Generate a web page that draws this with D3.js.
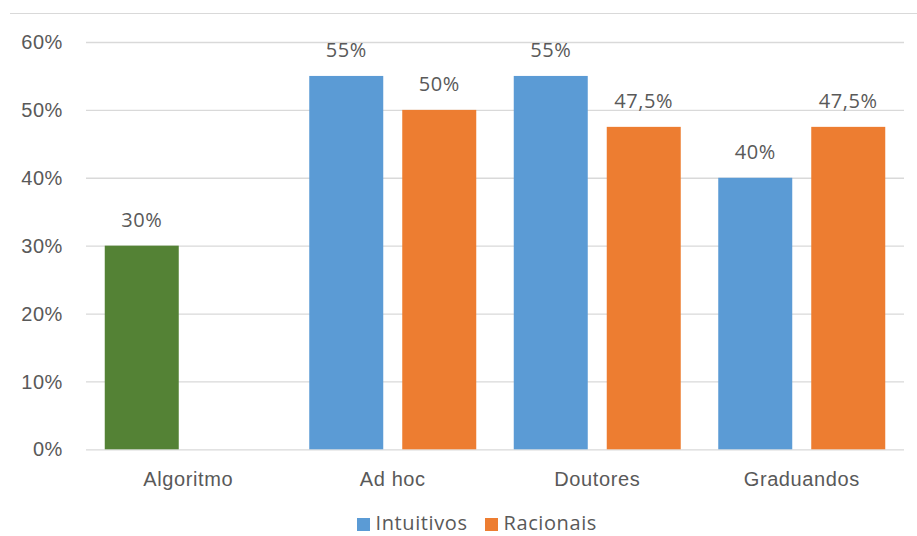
<!DOCTYPE html>
<html>
<head>
<meta charset="utf-8">
<script src="https://cdn.jsdelivr.net/npm/d3@7"></script>
<style>
  html, body { margin: 0; padding: 0; background: #ffffff; }
  svg { display: block; font-family: "Open Sans", "DejaVu Sans", sans-serif; }
  svg text { letter-spacing: 0.6px; }
</style>
</head>
<body>
<svg id="chart" width="917" height="536"></svg>
<script>
// Chart data
const categories = ["Algoritmo", "Ad hoc", "Doutores", "Graduandos"];
const seriesNames = ["Intuitivos", "Racionais"];
const intuitivos = [0.30, 0.55, 0.55, 0.40];
const racionais = [null, 0.50, 0.475, 0.475];
const valueLabels = {
  Intuitivos: ["30%", "55%", "55%", "40%"],
  Racionais: ["", "50%", "47,5%", "47,5%"]
};
const yTicks = [0, 0.1, 0.2, 0.3, 0.4, 0.5, 0.6];
const yTickLabels = ["0%", "10%", "20%", "30%", "40%", "50%", "60%"];

const seriesColors = { Intuitivos: "#5B9BD5", Racionais: "#ED7D31" };
// The Algoritmo point of the first series carries its own fill
const pointColors = { "Algoritmo|Intuitivos": "#548235" };

const textColor = "#595959";
const gridColor = "#d9d9d9";
const fontSize = 20;

const svg = d3.select("#chart");

const plot = { left: 86, right: 904, top: 42, bottom: 449.3 };

const x0 = d3.scaleBand()
  .domain(categories)
  .range([plot.left, plot.right])
  .padding(0);

const x1 = d3.scaleBand()
  .domain(seriesNames)
  .range([0, 167])
  .paddingInner(19 / 93)
  .paddingOuter(0);

const groupOffset = (x0.bandwidth() - 167) / 2;

const y = d3.scaleLinear()
  .domain([0, 0.6])
  .range([plot.bottom, plot.top]);

// Outer border (top edge only shows)
svg.append("line")
  .attr("x1", 10).attr("x2", 917)
  .attr("y1", 13.5).attr("y2", 13.5)
  .attr("stroke", gridColor).attr("stroke-width", 1);

// Gridlines and value axis labels
const yAxis = d3.axisLeft(y)
  .tickValues(yTicks)
  .tickSize(-(plot.right - plot.left))
  .tickPadding(23)
  .tickFormat((d, i) => yTickLabels[i]);

const gy = svg.append("g")
  .attr("transform", `translate(${plot.left},0)`)
  .call(yAxis);
gy.select(".domain").remove();
gy.selectAll(".tick line")
  .attr("stroke", gridColor)
  .attr("stroke-width", 1.3);
gy.selectAll(".tick text")
  .attr("fill", textColor)
  .attr("font-size", fontSize)
  .attr("dy", "0.33em");

// Bars
const rows = [];
categories.forEach((c, i) => {
  rows.push({ cat: c, series: "Intuitivos", value: intuitivos[i], label: valueLabels.Intuitivos[i] });
  rows.push({ cat: c, series: "Racionais", value: racionais[i], label: valueLabels.Racionais[i] });
});
const present = rows.filter(r => r.value !== null);

svg.append("g").selectAll("rect")
  .data(present)
  .join("rect")
  .attr("x", d => x0(d.cat) + groupOffset + x1(d.series))
  .attr("y", d => y(d.value))
  .attr("width", x1.bandwidth())
  .attr("height", d => y(0) - y(d.value))
  .attr("fill", d => pointColors[d.cat + "|" + d.series] || seriesColors[d.series]);

// Data labels
svg.append("g").selectAll("text")
  .data(present)
  .join("text")
  .attr("x", d => x0(d.cat) + groupOffset + x1(d.series) + x1.bandwidth() / 2)
  .attr("y", d => y(d.value) - 19)
  .attr("text-anchor", "middle")
  .attr("fill", textColor)
  .attr("font-size", fontSize)
  .text(d => d.label);

// Category axis
const xAxis = d3.axisBottom(x0).tickSize(0).tickPadding(0);
const gx = svg.append("g")
  .attr("transform", `translate(0,${plot.bottom})`)
  .call(xAxis);
gx.select(".domain").remove();
gx.selectAll(".tick text")
  .attr("fill", textColor)
  .attr("font-size", fontSize)
  .attr("dy", null)
  .attr("y", 36.5);

// Legend
const legendItems = [
  { name: "Intuitivos", x: 357 },
  { name: "Racionais", x: 485 }
];
const legend = svg.append("g");
legend.selectAll("rect")
  .data(legendItems)
  .join("rect")
  .attr("x", d => d.x)
  .attr("y", 518)
  .attr("width", 13)
  .attr("height", 13)
  .attr("fill", d => seriesColors[d.name]);
legend.selectAll("text")
  .data(legendItems)
  .join("text")
  .attr("x", d => d.x + 18.5)
  .attr("y", 530)
  .attr("fill", textColor)
  .attr("font-size", fontSize)
  .text(d => d.name);
</script>
</body>
</html>
